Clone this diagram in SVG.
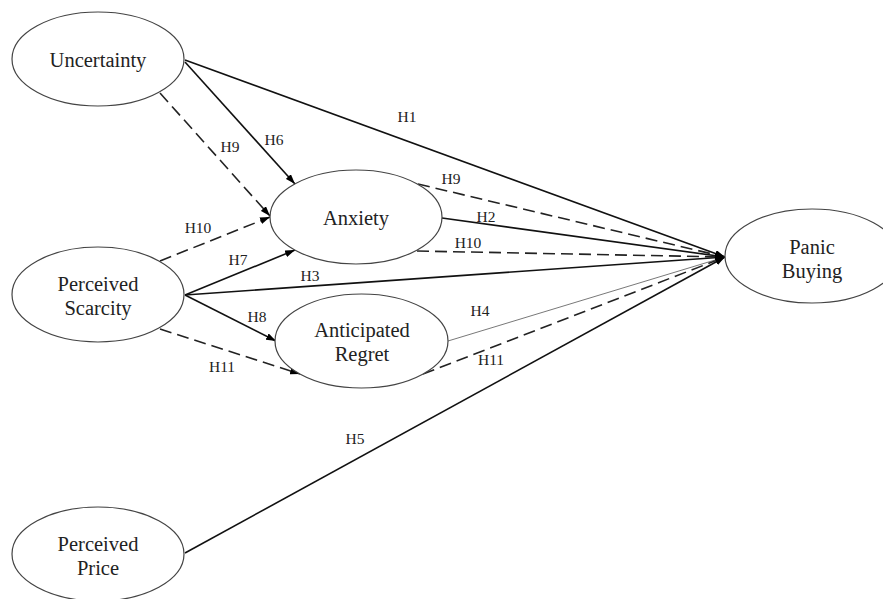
<svg xmlns="http://www.w3.org/2000/svg" width="883" height="599" viewBox="0 0 883 599">
<style>
.node ellipse{fill:#fff;stroke:#444;stroke-width:1.2}
.node text{font-family:"Liberation Serif","Times New Roman",serif;font-size:20.5px;fill:#222;text-anchor:middle}
.lbl{font-family:"Liberation Serif","Times New Roman",serif;font-size:15.5px;fill:#222;text-anchor:middle}
.s{stroke:#111;stroke-width:1.6;fill:none}
.d{stroke:#222;stroke-width:1.6;fill:none;stroke-dasharray:12 6}
.t{stroke:#555;stroke-width:0.8;fill:none}
</style>
<defs>
<marker id="arr" viewBox="0 0 10 7" refX="10" refY="3.5" markerWidth="10" markerHeight="7" markerUnits="userSpaceOnUse" orient="auto">
<path d="M0,0 L10,3.5 L0,7 z" fill="#000"/>
</marker>
</defs>
<rect width="883" height="599" fill="#fff"/>
<g id="connectors">
<line class="s" x1="185" y1="60" x2="725" y2="257" marker-end="url(#arr)"/>
<line class="s" x1="185" y1="62" x2="295" y2="184" marker-end="url(#arr)"/>
<line class="d" x1="160" y1="93" x2="270" y2="216" marker-end="url(#arr)"/>
<line class="d" x1="160" y1="261" x2="270" y2="217" marker-end="url(#arr)"/>
<line class="s" x1="185" y1="295" x2="295" y2="250" marker-end="url(#arr)"/>
<line class="s" x1="185" y1="295" x2="725" y2="257" marker-end="url(#arr)"/>
<line class="s" x1="185" y1="295" x2="276" y2="341" marker-end="url(#arr)"/>
<line class="d" x1="160" y1="329" x2="300" y2="374" marker-end="url(#arr)"/>
<line class="d" x1="418" y1="184" x2="725" y2="257" marker-end="url(#arr)"/>
<line class="s" x1="442" y1="218" x2="725" y2="257" marker-end="url(#arr)"/>
<line class="d" x1="417" y1="251" x2="725" y2="257" marker-end="url(#arr)"/>
<line class="t" x1="448" y1="341" x2="725" y2="257"/>
<line class="d" x1="423" y1="374" x2="725" y2="257" marker-end="url(#arr)"/>
<line class="s" x1="185" y1="553" x2="725" y2="257" marker-end="url(#arr)"/>
<text class="lbl" x="407" y="122">H1</text>
<text class="lbl" x="274" y="145">H6</text>
<text class="lbl" x="230" y="152">H9</text>
<text class="lbl" x="198" y="233">H10</text>
<text class="lbl" x="238" y="265">H7</text>
<text class="lbl" x="310" y="281">H3</text>
<text class="lbl" x="257" y="322">H8</text>
<text class="lbl" x="222" y="372">H11</text>
<text class="lbl" x="451" y="184">H9</text>
<text class="lbl" x="486" y="222">H2</text>
<text class="lbl" x="468" y="248">H10</text>
<text class="lbl" x="480" y="316">H4</text>
<text class="lbl" x="491" y="365">H11</text>
<text class="lbl" x="355" y="444">H5</text>
</g>
<g id="uncertainty" class="node">
<ellipse cx="98" cy="59" rx="86" ry="47"/>
<text x="98" y="67">Uncertainty</text>
</g>
<g id="perceived-scarcity" class="node">
<ellipse cx="98" cy="294.5" rx="86" ry="47.5"/>
<text x="98" y="291">Perceived</text>
<text x="98" y="315">Scarcity</text>
</g>
<g id="perceived-price" class="node">
<ellipse cx="98" cy="554" rx="86" ry="47"/>
<text x="98" y="551">Perceived</text>
<text x="98" y="575">Price</text>
</g>
<g id="anxiety" class="node">
<ellipse cx="356" cy="217" rx="86" ry="47"/>
<text x="356" y="225">Anxiety</text>
</g>
<g id="anticipated-regret" class="node">
<ellipse cx="361.5" cy="341" rx="86.5" ry="47"/>
<text x="362" y="337">Anticipated</text>
<text x="362" y="361">Regret</text>
</g>
<g id="panic-buying" class="node">
<ellipse cx="812" cy="256" rx="87" ry="47"/>
<text x="812" y="254">Panic</text>
<text x="812" y="278">Buying</text>
</g>
</svg>
